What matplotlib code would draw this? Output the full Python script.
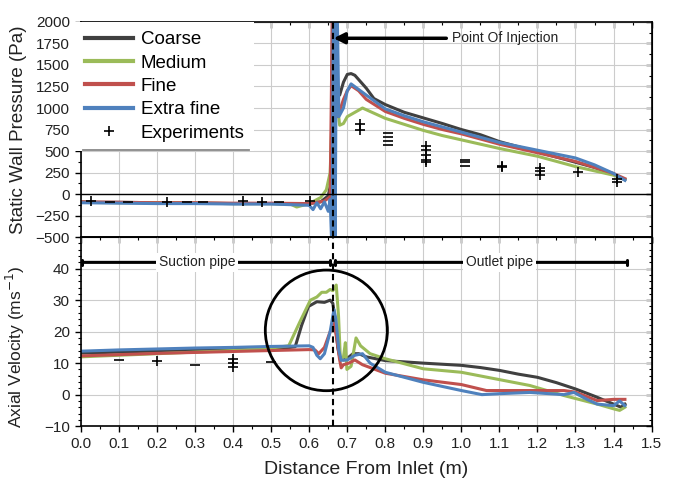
import matplotlib.pyplot as plt
from matplotlib.patches import Ellipse
from matplotlib.ticker import MultipleLocator

plt.rcParams['font.family'] = ['Liberation Sans', 'DejaVu Sans']

# Static wall pressure (Pa) along the pipe
coarse_p_x = [0.0, 0.05, 0.1, 0.2, 0.3, 0.4, 0.5, 0.55, 0.6, 0.63, 0.65, 0.658, 0.662, 0.666,
              0.672, 0.68, 0.69, 0.70, 0.71, 0.72, 0.75, 0.77, 0.8, 0.85, 0.9, 0.95, 1.0, 1.05,
              1.1, 1.15, 1.2, 1.25, 1.3, 1.35, 1.4, 1.43]
coarse_p = [-90, -95, -95, -100, -105, -110, -110, -115, -110, -90, -20, 150, 2600, 2600,
            1200, 1150, 1300, 1390, 1400, 1380, 1230, 1110, 1040, 950, 885, 820, 750, 690,
            610, 550, 490, 430, 370, 310, 230, 170]

medium_p_x = [0.0, 0.1, 0.2, 0.3, 0.4, 0.5, 0.55, 0.567, 0.6, 0.63, 0.645, 0.655, 0.66, 0.663,
              0.667, 0.672, 0.68, 0.69, 0.70, 0.72, 0.74, 0.76, 0.8, 0.85, 0.9, 0.95, 1.0,
              1.1, 1.2, 1.3, 1.4, 1.43]
medium_p = [-95, -100, -100, -105, -110, -110, -115, -150, -110, -40, 50, 250, 900, 2600,
            2600, 1100, 800, 820, 900, 950, 1000, 960, 880, 810, 740, 680, 630,
            530, 440, 320, 220, 170]

fine_p_x = [0.0, 0.1, 0.2, 0.3, 0.4, 0.5, 0.6, 0.64, 0.655, 0.662, 0.667, 0.675, 0.69, 0.70,
            0.71, 0.73, 0.75, 0.8, 0.85, 0.9, 0.95, 1.0, 1.1, 1.2, 1.3, 1.4, 1.43]
fine_p = [-90, -95, -100, -100, -105, -105, -110, -80, -30, 2600, 2600, 900, 1100, 1200,
          1260, 1200, 1100, 960, 880, 810, 750, 700, 580, 480, 380, 240, 180]

xfine_p_x = [0.0, 0.1, 0.2, 0.3, 0.4, 0.5, 0.6, 0.61, 0.62, 0.63, 0.64, 0.65, 0.655, 0.66,
             0.664, 0.668, 0.672, 0.678, 0.69, 0.70, 0.71, 0.75, 0.8, 0.85, 0.9, 0.95, 1.0,
             1.1, 1.2, 1.3, 1.35, 1.4, 1.43]
xfine_p = [-100, -105, -110, -110, -115, -115, -130, -180, -100, -170, -90, -200, -60, -700,
           2600, -700, 2600, 900, 1000, 1200, 1280, 1150, 990, 910, 840, 780, 720,
           600, 510, 420, 340, 240, 160]

# Experimental wall pressure readings
exp_p_x = [0.025, 0.225, 0.425, 0.475, 0.603, 0.734, 0.734, 0.908, 0.908, 0.908, 0.908, 0.908,
           1.108, 1.108, 1.208, 1.208, 1.208, 1.307, 1.408, 1.408]
exp_p = [-85, -95, -85, -90, -80, 810, 750, 556, 517, 459, 400, 369,
         325, 318, 304, 264, 225, 252, 175, 136]
exp_p_dash_x = [0.076, 0.124, 0.278, 0.32, 0.52, 0.808, 0.808, 0.808, 0.808, 1.01, 1.01, 1.01]
exp_p_dash = [-95, -95, -95, -95, -95, 715, 660, 615, 576, 400, 369, 330]

# Axial velocity (m/s) along the pipe
coarse_v_x = [0.0, 0.1, 0.2, 0.3, 0.4, 0.5, 0.55, 0.563, 0.58, 0.598, 0.62, 0.64, 0.655, 0.662,
              0.668, 0.675, 0.68, 0.69, 0.70, 0.715, 0.73, 0.75, 0.8, 0.9, 1.0, 1.05, 1.1,
              1.15, 1.2, 1.25, 1.3, 1.35, 1.4, 1.42, 1.43]
coarse_v = [13.2, 13.5, 13.8, 14.1, 14.4, 14.8, 15.0, 15.2, 22, 28, 29.5, 29.3, 30, 29,
            24, 15, 12, 11, 11.5, 13, 13, 12, 10.8, 10, 9.3, 8.6, 7.7,
            6.5, 5.5, 3.8, 1.8, -0.5, -3, -4, -3]

medium_v_x = [0.0, 0.1, 0.2, 0.3, 0.4, 0.5, 0.546, 0.575, 0.603, 0.62, 0.633, 0.645, 0.655,
              0.662, 0.671, 0.677, 0.682, 0.69, 0.695, 0.699, 0.71, 0.723, 0.735, 0.76, 0.8,
              0.9, 1.0, 1.09, 1.18, 1.27, 1.357, 1.4, 1.416, 1.43]
medium_v = [12.0, 12.5, 13.0, 13.5, 14.0, 14.8, 15.5, 23, 30, 31, 32.5, 32.5, 33.4,
            33, 34.8, 25, 11, 12, 16.5, 8, 9, 18, 15.5, 13, 11.4,
            8.2, 7.1, 5, 2.9, -0.3, -3, -4.5, -5, -4]

fine_v_x = [0.0, 0.1, 0.2, 0.3, 0.4, 0.5, 0.6, 0.615, 0.625, 0.64, 0.655, 0.665, 0.672, 0.68,
            0.684, 0.69, 0.704, 0.72, 0.74, 0.8, 0.9, 1.0, 1.066, 1.18, 1.27, 1.3, 1.357,
            1.4, 1.43]
fine_v = [12.3, 12.7, 13.1, 13.4, 13.7, 14.0, 14.3, 14.2, 13, 15, 20, 22.6, 18, 11,
          8.5, 9.5, 10, 11, 9.5, 6.8, 4.7, 3.2, 1.3, 1.3, 1.3, 0.8, -1.9,
          -1.5, -1.5]

xfine_v_x = [0.0, 0.1, 0.2, 0.3, 0.4, 0.5, 0.6, 0.61, 0.62, 0.629, 0.64, 0.655, 0.665, 0.67,
             0.678, 0.684, 0.7, 0.72, 0.74, 0.76, 0.8, 0.9, 1.0, 1.054, 1.1, 1.18, 1.27,
             1.296, 1.33, 1.357, 1.4, 1.416, 1.43]
xfine_v = [13.8, 14.2, 14.5, 14.8, 15.0, 15.3, 15.5, 15.0, 12.5, 11.4, 13, 20, 27, 24,
           14, 10.9, 11, 12.5, 13, 10, 7.1, 3.9, 1.3, 0, 0.3, 0.7, 0,
           0.7, -1.5, -3, -3.5, -2, -3.5]

# Experimental axial velocity readings
exp_v_x = [0.2, 0.4, 0.4, 0.4]
exp_v = [10.6, 11.4, 10.0, 8.9]
exp_v_dash_x = [0.1, 0.3, 0.5]
exp_v_dash = [11.1, 9.3, 10.3]

injection_x = 0.662

colors = {'Coarse': '#404040', 'Medium': '#9bbb59', 'Fine': '#c0504d', 'Extra fine': '#4f81bd'}
text_color = '#222222'

fig = plt.figure(figsize=(6.78, 4.87), dpi=100)
ax_p = fig.add_axes([0.1195, 0.513, 0.8415, 0.442])
ax_v = fig.add_axes([0.1195, 0.125, 0.8415, 0.388], sharex=ax_p)

lw = 2.2
ax_p.plot(coarse_p_x, coarse_p, color=colors['Coarse'], lw=lw, label='Coarse')
ax_p.plot(medium_p_x, medium_p, color=colors['Medium'], lw=lw, label='Medium')
ax_p.plot(fine_p_x, fine_p, color=colors['Fine'], lw=lw, label='Fine')
ax_p.plot(xfine_p_x, xfine_p, color=colors['Extra fine'], lw=lw, label='Extra fine')
ax_p.plot(exp_p_x, exp_p, ls='none', marker='+', ms=7, mew=1.2, color='black', label='Experiments')
ax_p.plot(exp_p_dash_x, exp_p_dash, ls='none', marker='_', ms=7, mew=1.2, color='black')

ax_v.plot(coarse_v_x, coarse_v, color=colors['Coarse'], lw=lw)
ax_v.plot(medium_v_x, medium_v, color=colors['Medium'], lw=lw)
ax_v.plot(fine_v_x, fine_v, color=colors['Fine'], lw=lw)
ax_v.plot(xfine_v_x, xfine_v, color=colors['Extra fine'], lw=lw)
ax_v.plot(exp_v_x, exp_v, ls='none', marker='+', ms=7, mew=1.2, color='black')
ax_v.plot(exp_v_dash_x, exp_v_dash, ls='none', marker='_', ms=7, mew=1.2, color='black')

# Axis ranges and ticks
ax_p.set_xlim(0, 1.5)
ax_p.set_ylim(-500, 2000)
ax_v.set_ylim(-10, 50)
ax_p.xaxis.set_major_locator(MultipleLocator(0.1))
ax_p.xaxis.set_minor_locator(MultipleLocator(0.05))
ax_p.yaxis.set_major_locator(MultipleLocator(250))
ax_p.yaxis.set_minor_locator(MultipleLocator(125))
ax_v.set_yticks([-10, 0, 10, 20, 30, 40])
ax_v.yaxis.set_minor_locator(MultipleLocator(2))

for ax in (ax_p, ax_v):
    ax.grid(True, which='major', color='#cccccc', lw=0.8)
    ax.set_axisbelow(True)
    ax.tick_params(which='both', direction='out', colors='black', labelcolor=text_color,
                   labelsize=11)
    ax.tick_params(which='major', length=4.5, width=1)
    ax.tick_params(which='minor', length=2.5, width=0.8)
    for s in ax.spines.values():
        s.set_linewidth(1.2)
    ax.axvline(injection_x, color='black', ls=(0, (3, 2)), lw=1.5, zorder=5)

    # inward ticks on the opposite sides
    top = ax.secondary_xaxis('top')
    top.xaxis.set_major_locator(MultipleLocator(0.1))
    top.xaxis.set_minor_locator(MultipleLocator(0.05))
    top.tick_params(which='both', direction='in', labeltop=False)
    top.tick_params(which='major', length=4.5, width=1)
    top.tick_params(which='minor', length=2.5, width=0.8)
    right = ax.secondary_yaxis('right')
    right.yaxis.set_major_locator(ax.yaxis.get_major_locator())
    right.yaxis.set_minor_locator(ax.yaxis.get_minor_locator())
    right.tick_params(which='both', direction='in', labelright=False)
    right.tick_params(which='major', length=4.5, width=1)
    right.tick_params(which='minor', length=2.5, width=0.8)

ax_p.tick_params(labelbottom=False)
ax_p.axhline(0, color='black', lw=1)
ax_v.set_xticks([i / 10 for i in range(16)])
ax_v.set_xticklabels([f'{i / 10:.1f}' for i in range(16)])

ax_p.set_ylabel('Static Wall Pressure (Pa)', fontsize=13.5, color=text_color)
ax_v.set_ylabel('Axial Velocity (ms$^{-1}$)', fontsize=12.5, color=text_color)
ax_p.yaxis.set_label_coords(-0.095, 0.5)
ax_v.yaxis.set_label_coords(-0.095, 0.42)
ax_v.set_xlabel('Distance From Inlet (m)', fontsize=14, color=text_color, labelpad=7)

leg = ax_p.legend(loc='upper left', bbox_to_anchor=(-0.01, 1.0), fontsize=13.5,
                  handlelength=2.6, handletextpad=0.4, labelspacing=0.33, borderaxespad=0,
                  borderpad=0.5, frameon=True, fancybox=False, facecolor='white',
                  edgecolor='none', framealpha=1)
for line in leg.get_lines()[:4]:
    line.set_linewidth(3)
ax_p.plot([0.004, 0.295], [0.405, 0.405], transform=ax_p.transAxes, color='#888888', lw=1.3,
          zorder=6)

# Injection marker
ax_p.annotate('Point Of Injection', xy=(injection_x + 0.002, 1810), xytext=(0.975, 1810),
              ha='left', va='center', fontsize=10, color=text_color,
              arrowprops=dict(arrowstyle='-|>', lw=2.5, color='black', mutation_scale=16,
                              shrinkA=2, shrinkB=0))

# Pipe section brackets
ax_v.annotate('', xy=(0.003, 42), xytext=(0.655, 42),
              arrowprops=dict(arrowstyle='|-|, widthA=0.18, widthB=0.18', lw=2.2, color='black',
                              shrinkA=0, shrinkB=0))
ax_v.text(0.306, 42, 'Suction pipe', ha='center', va='center', fontsize=10, color=text_color,
          bbox=dict(facecolor='white', edgecolor='none', pad=2))
ax_v.annotate('', xy=(0.668, 42), xytext=(1.436, 42),
              arrowprops=dict(arrowstyle='|-|, widthA=0.18, widthB=0.18', lw=2.2, color='black',
                              shrinkA=0, shrinkB=0))
ax_v.text(1.10, 42, 'Outlet pipe', ha='center', va='center', fontsize=10, color=text_color,
          bbox=dict(facecolor='white', edgecolor='none', pad=2))

ax_v.add_patch(Ellipse((0.645, 20.4), 0.321, 38.3, fill=False, lw=2, color='black', zorder=6))

fig.savefig('out.png', dpi=100)
